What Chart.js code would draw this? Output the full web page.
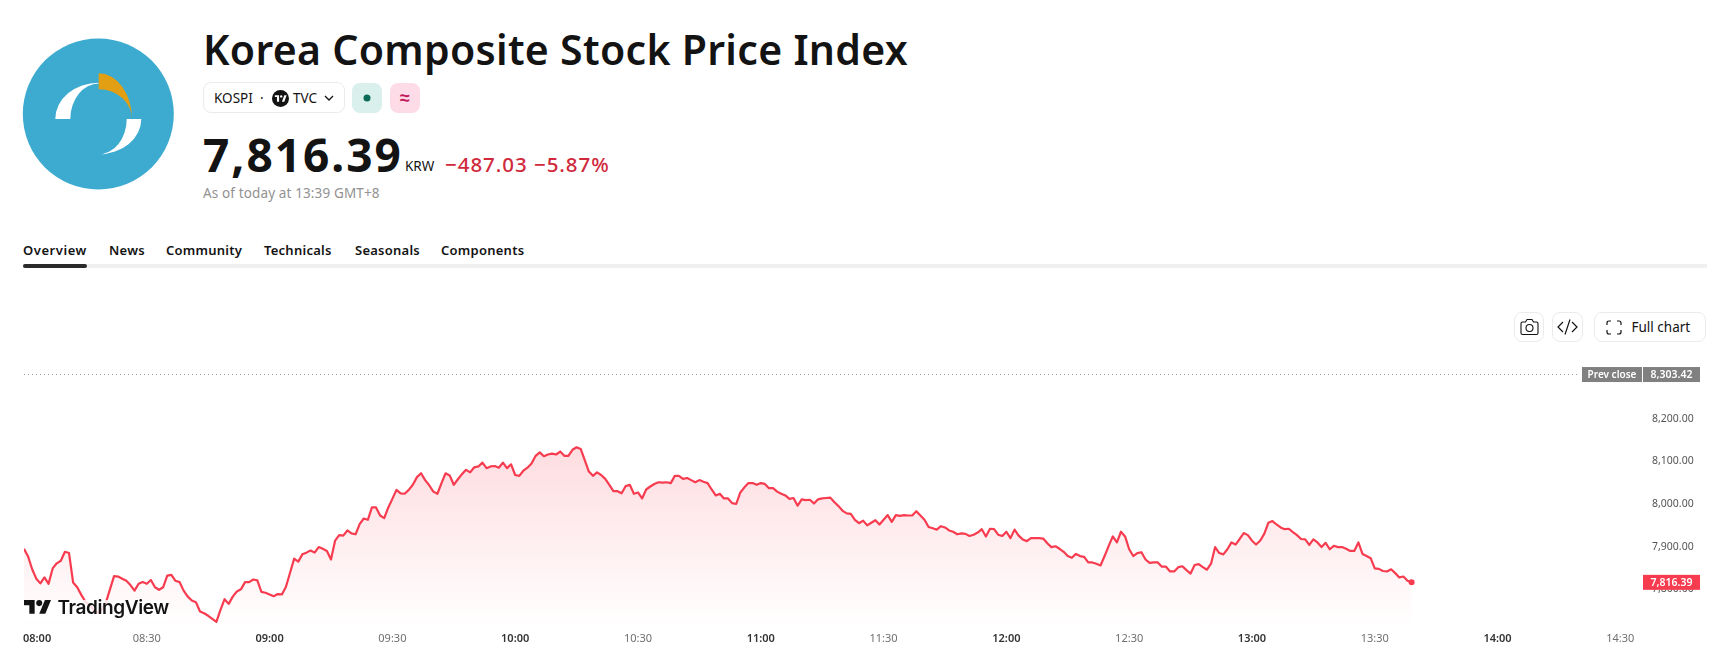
<!DOCTYPE html>
<html>
<head>
<meta charset="utf-8">
<title>KOSPI</title>
<script src="https://cdn.jsdelivr.net/npm/chart.js@4"></script>
<style>
  html, body { margin: 0; padding: 0; background: #fff; }
  body { position: relative; width: 1723px; height: 667px; overflow: hidden; font-family: "Noto Sans", sans-serif; color: #131313; }
  .t { position: absolute; white-space: nowrap; }
  .box { position: absolute; box-sizing: border-box; }
  .btn { border: 1px solid #ebebeb; border-radius: 8px; background: #fff; }
  .tab { font-size: 13px; line-height: 20px; font-weight: 600; letter-spacing: .25px; }
  svg { position: absolute; overflow: visible; }
  #priceChart { position: absolute; left: 0; top: 340px; }
</style>
</head>
<body>

<svg style="left:0;top:0" width="200" height="200">
  <circle cx="98.3" cy="114" r="75.5" fill="#3cabcf"/>
  <path d="M55.3 119 A43.4 36.3 0 0 1 98.7 82.7 L98.7 83.5 A28.4 35.5 0 0 0 70.3 119Z" fill="#fff"/>
  <path d="M98.7 73.3 A33.3 45.7 0 0 1 132 119 A33.3 29.7 0 0 0 98.7 89.3Z" fill="#e29f13"/>
  <path d="M126.7 119 L141.3 119 A42.6 35.3 0 0 1 98.7 154.3 A28 35.3 0 0 0 126.7 119Z" fill="#fff"/>
</svg>

<div class="t" id="title" style="left:203px;top:20px;font-size:41px;line-height:58px;font-weight:600;letter-spacing:.3px">Korea Composite Stock Price Index</div>

<div class="box btn" style="left:203px;top:82px;width:142px;height:31px"></div>
<div class="t" style="left:214px;top:88px;font-size:13.5px;line-height:20px">KOSPI</div>
<div class="t" style="left:260px;top:88px;font-size:13.5px;line-height:20px">·</div>
<svg style="left:271.5px;top:89.5px" width="17" height="17" viewBox="0 0 36 36">
  <circle cx="18" cy="18" r="18" fill="#131313"/>
  <path d="M15 25H10.500V15H6V11h9v14zM26 25h-5l5-14h5L26 25z" fill="#fff"/><circle cx="19.500" cy="13.500" r="2.500" fill="#fff"/>
</svg>
<div class="t" style="left:293px;top:88px;font-size:13.5px;line-height:20px">TVC</div>
<svg style="left:324px;top:95px" width="10" height="6"><path d="M1 1 L5 5 L9 1" fill="none" stroke="#131313" stroke-width="1.300"/></svg>

<div class="box" style="left:352px;top:83px;width:30px;height:30px;border-radius:8px;background:#daf0ec"></div>
<svg style="left:352px;top:83px" width="30" height="30"><circle cx="15" cy="15" r="3.500" fill="#0b6b58"/></svg>
<div class="box" style="left:390px;top:83px;width:30px;height:30px;border-radius:8px;background:#fddce8"></div>
<div class="t" style="left:390px;top:83px;width:30px;text-align:center;font-size:18px;line-height:29px;color:#c2185b;font-weight:700">≈</div>

<div class="t" id="price" style="left:203px;top:122px;font-size:46px;line-height:64px;font-weight:700;letter-spacing:2px">7,816.39</div>
<div class="t" style="left:405px;top:156px;font-size:13.500px;line-height:20px">KRW</div>
<div class="t" id="change" style="left:445px;top:149px;font-size:20.500px;line-height:30px;font-weight:500;color:#d0293c;letter-spacing:.95px">−487.03 −5.87%</div>
<div class="t" style="left:203px;top:183px;font-size:13.500px;line-height:20px;color:#929292;letter-spacing:.13px">As of today at 13:39 GMT+8</div>

<div class="t tab" style="left:23px;top:240px;letter-spacing:.55px">Overview</div>
<div class="t tab" style="left:109px;top:240px">News</div>
<div class="t tab" style="left:166px;top:240px">Community</div>
<div class="t tab" style="left:264px;top:240px">Technicals</div>
<div class="t tab" style="left:355px;top:240px">Seasonals</div>
<div class="t tab" style="left:441px;top:240px">Components</div>
<div class="box" style="left:23px;top:264px;width:1684px;height:4px;background:#f0f0f0"></div>
<div class="box" style="left:23px;top:264px;width:64px;height:4px;border-radius:2px;background:#2a2a2a"></div>

<div class="box btn" style="left:1514px;top:312px;width:30px;height:30px"></div>
<svg style="left:1519.500px;top:317.500px" width="19" height="19" fill="none" stroke="#131313" stroke-width="1.100">
  <path d="M1 5.500 Q1 4 2.500 4 H5.500 L7 1.500 H12 L13.500 4 H16.500 Q18 4 18 5.500 V15 Q18 16.500 16.500 16.500 H2.500 Q1 16.500 1 15Z"/><circle cx="9.500" cy="10" r="3.500"/>
</svg>
<div class="box btn" style="left:1552px;top:312px;width:31px;height:30px"></div>
<svg style="left:1557px;top:318px" width="21" height="18" fill="none" stroke="#131313" stroke-width="1.200">
  <path d="M6 4 L1 9 L6 14 M15 4 L20 9 L15 14 M13 1.500 L8 16.500"/>
</svg>
<div class="box btn" style="left:1594px;top:312px;width:112px;height:30px"></div>
<svg style="left:1606px;top:319.500px" width="16" height="15" fill="none" stroke="#131313" stroke-width="1.200">
  <path d="M1 5 V3 Q1 1 3 1 H5 M11 1 H13 Q15 1 15 3 V5 M15 10 V12 Q15 14 13 14 H11 M5 14 H3 Q1 14 1 12 V10"/>
</svg>
<div class="t" style="left:1631.500px;top:317px;font-size:13.500px;line-height:20px">Full chart</div>

<canvas id="priceChart" width="1723" height="327"></canvas>

<div class="box" style="left:24px;top:600px;width:144px;height:19px;background:rgba(255,255,255,.82)"></div>
<svg style="left:24.300px;top:597.300px" width="27.400" height="21.300" viewBox="0 0 36 28">
  <path d="M14 22H7V11H0V4h14v18zM28 22h-8l7.500-18h8L28 22z" fill="#131313"/><circle cx="20" cy="8" r="4" fill="#131313"/>
</svg>
<div class="t" style="left:57.500px;top:596px;font-family:Inter,sans-serif;font-size:19px;line-height:24px;font-weight:600;letter-spacing:-.4px">TradingView</div>

<script>
// one-minute closes from the 08:00 open
const closes = [
  7895,7877,7847,7825,7814,7828,7813,7849,7861,7867,7888,7885,7816,7805,7787,7771,7763,7752,7745,7752,
  7769,7800,7831,7830,7825,7820,7810,7797,7813,7817,7813,7822,7805,7799,7805,7832,7834,7820,7817,7797,
  7783,7774,7770,7748,7744,7738,7731,7724,7752,7777,7766,7783,7795,7800,7817,7817,7823,7821,7794,7792,
  7788,7784,7789,7788,7806,7839,7872,7865,7882,7886,7891,7886,7899,7895,7890,7870,7914,7927,7926,7938,
  7931,7929,7953,7966,7963,7992,7992,7973,7967,7992,8012,8033,8025,8024,8033,8045,8063,8072,8056,8044,
  8029,8024,8049,8072,8067,8045,8058,8070,8080,8074,8086,8088,8097,8084,8088,8089,8085,8097,8084,8093,
  8068,8066,8078,8085,8095,8113,8121,8112,8116,8118,8116,8123,8113,8113,8127,8133,8129,8103,8076,8066,
  8074,8068,8059,8045,8030,8030,8025,8042,8045,8024,8027,8013,8034,8041,8047,8051,8050,8051,8049,8066,
  8066,8059,8061,8056,8051,8056,8052,8049,8034,8020,8024,8013,8013,8002,8000,8027,8039,8049,8049,8045,
  8049,8047,8037,8037,8029,8024,8020,8012,8014,7996,8011,8009,8010,8001,8011,8013,8014,8015,8004,7995,
  7984,7978,7977,7963,7955,7961,7950,7956,7962,7952,7963,7974,7958,7974,7972,7974,7973,7973,7983,7973,
  7963,7946,7943,7940,7948,7945,7938,7935,7929,7931,7930,7925,7928,7933,7941,7924,7942,7941,7928,7925,
  7935,7920,7940,7926,7917,7913,7920,7920,7920,7919,7908,7899,7901,7895,7888,7878,7874,7883,7878,7876,
  7863,7863,7860,7856,7878,7902,7924,7910,7935,7924,7894,7878,7885,7887,7870,7862,7863,7863,7853,7853,
  7842,7842,7852,7854,7845,7837,7857,7859,7852,7846,7860,7899,7885,7882,7894,7910,7905,7918,7932,7927,
  7914,7905,7914,7930,7956,7960,7952,7945,7941,7942,7934,7927,7918,7917,7904,7917,7910,7899,7909,7894,
  7902,7899,7899,7895,7890,7890,7910,7883,7878,7873,7849,7848,7843,7842,7847,7838,7828,7830,7820,7816.39
];
const prevClose = 8303.42;
const priceTicks = [7800, 7900, 8000, 8100, 8200];
const timeTicks = [0, 30, 60, 90, 120, 150, 180, 210, 240, 270, 300, 330, 360, 390];
const timeLabels = ['08:00', '08:30', '09:00', '09:30', '10:00', '10:30', '11:00', '11:30', '12:00', '12:30', '13:00', '13:30', '14:00', '14:30'];

const lastIndex = closes.length - 1;
const RED = '#f73c50';
const AXIS_FONT = 'Noto Sans';
const money = v => v.toLocaleString('en-US', { minimumFractionDigits: 2, maximumFractionDigits: 2 });

function areaFill(ctx) {
  const { chart } = ctx;
  if (!chart.chartArea) return 'transparent';
  const y = chart.scales.y;
  const g = chart.ctx.createLinearGradient(0, y.getPixelForValue(8140), 0, chart.chartArea.bottom);
  g.addColorStop(0, 'rgba(247,60,80,0.18)');
  g.addColorStop(1, 'rgba(247,60,80,0)');
  return g;
}

function priceTag(c, right, left, y, h, bg, text, font) {
  c.fillStyle = bg;
  c.fillRect(left, y - h / 2, right - left, h);
  c.fillStyle = '#fff';
  c.font = font;
  c.textAlign = 'center';
  c.textBaseline = 'middle';
  c.fillText(text, (left + right) / 2, y + 0.5);
}

// price tags sit on the right axis, over its tick labels
const tagsPlugin = {
  id: 'tags',
  beforeDraw(chart) {
    // first time label starts at the plot edge instead of centring on it
    const x = chart.scales.x;
    const first = x.getLabelItems()[0];
    first.options.textAlign = 'left';
    first.options.translation[0] = x.getPixelForValue(0) - 1;
  },
  afterDraw(chart) {
    const c = chart.ctx;
    const y = chart.scales.y;
    c.save();
    const prevY = y.getPixelForValue(prevClose);
    priceTag(c, 1642, 1582, prevY, 15, '#808080', 'Prev close', '600 10px ' + AXIS_FONT);
    priceTag(c, 1700, 1643, prevY, 15, '#808080', money(prevClose), '600 10.5px ' + AXIS_FONT);
    priceTag(c, 1700, 1643, y.getPixelForValue(closes[lastIndex]), 15, RED, money(closes[lastIndex]), '600 10.5px ' + AXIS_FONT);
    c.restore();
  }
};

new Chart(document.getElementById('priceChart'), {
  type: 'line',
  data: {
    datasets: [
      {
        data: closes.map((v, i) => ({ x: i, y: v })),
        borderColor: RED,
        borderWidth: 2.2,
        borderJoinStyle: 'round',
        tension: 0,
        fill: 'start',
        backgroundColor: areaFill,
        pointRadius: ctx => ctx.dataIndex === lastIndex ? 3 : 0,
        pointBackgroundColor: RED,
        pointBorderWidth: 0
      },
      {
        data: [{ x: 0, y: prevClose }, { x: 380, y: prevClose }],
        borderColor: '#9a9a9a',
        borderWidth: 1,
        borderDash: [1, 3],
        pointRadius: 0,
        fill: false
      }
    ]
  },
  options: {
    responsive: false,
    animation: false,
    layout: { padding: { left: 24, top: 10, right: 0, bottom: 0 } },
    plugins: { legend: { display: false }, tooltip: { enabled: false } },
    scales: {
      x: {
        type: 'linear',
        min: 0,
        max: 397,
        grid: { display: false, drawTicks: false },
        border: { display: false },
        afterFit: s => { s.height = 39; },
        afterBuildTicks: s => { s.ticks = timeTicks.map(value => ({ value })); },
        ticks: {
          autoSkip: false,
          maxRotation: 0,
          padding: 4,
          font: ctx => ({ family: AXIS_FONT, size: 11, weight: timeTicks[ctx.index] % 60 === 0 ? '600' : '400' }),
          color: ctx => timeTicks[ctx.index] % 60 === 0 ? '#333' : '#6f6f6f',
          callback: (v, i) => timeLabels[i]
        }
      },
      y: {
        position: 'right',
        min: 7709.4,
        max: 8360.9,
        grid: { display: false, drawTicks: false },
        border: { display: false },
        afterFit: s => { s.width = 74; },
        afterBuildTicks: s => { s.ticks = priceTicks.map(value => ({ value })); },
        ticks: {
          padding: 3,
          font: { family: AXIS_FONT, size: 10.5 },
          color: '#555',
          callback: v => money(v)
        }
      }
    }
  },
  plugins: [tagsPlugin]
});
</script>
</body>
</html>
